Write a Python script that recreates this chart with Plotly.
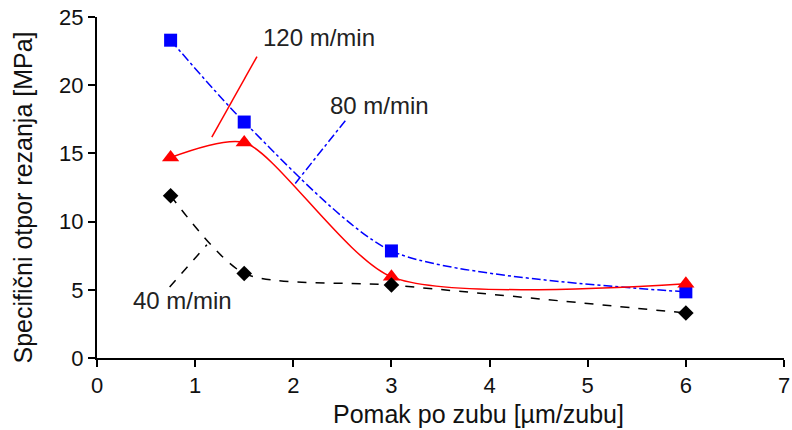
import plotly.graph_objects as go

# feed per tooth [um/tooth]
feed = [0.75, 1.5, 3, 6]

# specific cutting resistance [MPa] at three cutting speeds
v40 = [11.9, 6.2, 5.35, 3.3]
v80 = [23.3, 17.3, 7.85, 4.85]
v120 = [14.7, 15.8, 5.95, 5.45]

x_ticks = [0, 1, 2, 3, 4, 5, 6, 7]
y_ticks = [0, 5, 10, 15, 20, 25]

x_title = "Pomak po zubu [µm/zubu]"
y_title = "Specifični otpor rezanja [MPa]"

FONT = "Liberation Sans, Arial, sans-serif"

fig = go.Figure()

fig.add_trace(go.Scatter(
    x=feed, y=v80, mode="lines+markers",
    line=dict(color="#0000ff", width=1.5, dash="dashdot", shape="spline", smoothing=0.7),
    marker=dict(symbol="square", size=13, color="#0000ff"),
    name="80 m/min"))
fig.add_trace(go.Scatter(
    x=feed, y=v120, mode="lines+markers",
    line=dict(color="#ff0000", width=1.5, shape="spline", smoothing=0.7),
    marker=dict(symbol="triangle-up", size=15, color="#ff0000"),
    name="120 m/min"))
fig.add_trace(go.Scatter(
    x=feed, y=v40, mode="lines+markers",
    line=dict(color="#000000", width=1.5, dash="dash", shape="spline", smoothing=0.7),
    marker=dict(symbol="diamond", size=12, color="#000000"),
    name="40 m/min"))

# leader lines pointing from each label to its curve
leaders = [
    ((1.63, 22.1), (1.17, 16.2), "#ff0000", "solid"),
    ((2.53, 17.4), (2.02, 12.8), "#0000ff", "dashdot"),
    ((0.74, 5.2), (1.12, 8.3), "#000000", "dash"),
]
for (x0, y0), (x1, y1), col, dash in leaders:
    fig.add_shape(type="line", x0=x0, y0=y0, x1=x1, y1=y1, xref="x", yref="y",
                  line=dict(color=col, width=1.5, dash=dash))

labels = [(2.26, 23.5, "120 m/min"), (2.88, 18.5, "80 m/min"), (0.87, 4.25, "40 m/min")]
for lx, ly, txt in labels:
    fig.add_annotation(x=lx, y=ly, text=txt, showarrow=False, xref="x", yref="y",
                       font=dict(family=FONT, size=24, color="#222222"))

# axis titles placed as paper annotations
fig.add_annotation(x=0.555, y=-0.163, xref="paper", yref="paper", text=x_title,
                   showarrow=False, xanchor="center", yanchor="middle",
                   font=dict(family=FONT, size=25, color="#111111"))
fig.add_annotation(x=-0.108, y=0.47, xref="paper", yref="paper", text=y_title,
                   showarrow=False, textangle=-90, xanchor="center", yanchor="middle",
                   font=dict(family=FONT, size=25, color="#111111"))

fig.update_layout(
    width=792, height=430,
    margin=dict(l=97, r=8, t=17, b=72),
    paper_bgcolor="white", plot_bgcolor="white",
    showlegend=False,
    font=dict(family=FONT, size=22, color="#111111"),
)
fig.update_xaxes(
    range=[0, 7], tickvals=x_ticks, showgrid=False, zeroline=False,
    showline=True, linecolor="black", linewidth=2, automargin=False,
    ticks="outside", ticklen=7, tickcolor="black", tickwidth=1.5,
    tickfont=dict(size=22), ticklabeloverflow="allow",
)
fig.update_yaxes(
    range=[0, 25], tickvals=y_ticks, showgrid=False, zeroline=False,
    showline=True, linecolor="black", linewidth=2, automargin=False,
    ticks="outside", ticklen=7, tickcolor="black", tickwidth=1.5,
    tickfont=dict(size=22),
)

fig.write_html("out.html")
